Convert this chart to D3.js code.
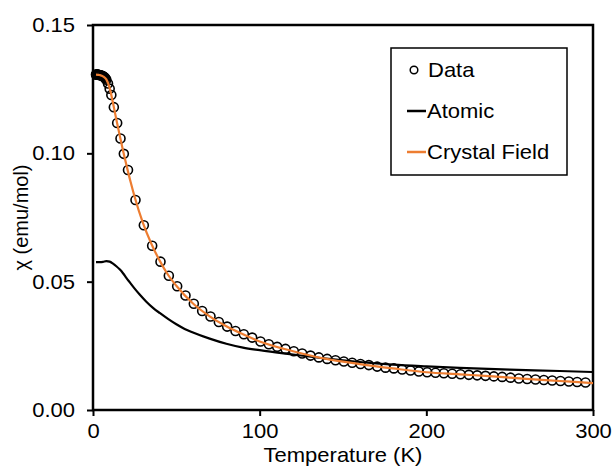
<!DOCTYPE html>
<html>
<head>
<meta charset="utf-8">
<script src="https://cdn.jsdelivr.net/npm/d3@7"></script>
<style>
  body { margin: 0; background: #fff; }
  svg { font-family: "Liberation Sans", Arial, sans-serif; }
</style>
</head>
<body>
<svg id="chart" width="613" height="467"></svg>
<script>
// Measured data (circles).
var dataT = [1.8, 2, 2.2, 2.5, 2.8, 3, 3.3, 3.6, 4, 4.5, 5, 5.5, 6, 6.5, 7, 7.5, 8, 9, 10, 11,
  12.5, 14.5, 16.5, 18.5, 21, 25.5, 30.5, 35.5, 40.5, 45.5, 50.5, 55.5, 60.5, 65.5, 70.5,
  75.5, 80.5, 85.5, 90.5, 95.5, 100.5, 105.5, 110.5, 115.5, 120.5, 125.5, 130.5, 135.5,
  140.5, 145.5, 150.5, 155.5, 160.5, 165.5, 170.5, 175.5, 180.5, 185.5, 190.5, 195.5,
  200.5, 205.5, 210.5, 215.5, 220.5, 225.5, 230.5, 235.5, 240.5, 245.5, 250.5, 255.5,
  260.5, 265.5, 270.5, 275.5, 280.5, 285.5, 290.5, 295.5];
var dataChi = [0.1307, 0.1307, 0.1307, 0.1307, 0.1306, 0.1306, 0.1306, 0.1305, 0.1305, 0.1304,
  0.1303, 0.1302, 0.1300, 0.1298, 0.1295, 0.1292, 0.1287, 0.1272, 0.1252, 0.1227,
  0.1180, 0.1118, 0.1058, 0.0998, 0.0935, 0.0818, 0.0720, 0.0640, 0.0578, 0.0523, 0.0482,
  0.0446, 0.0414, 0.0386, 0.0364, 0.0343, 0.0325, 0.0308, 0.0295, 0.0282, 0.0267, 0.0256,
  0.0246, 0.0238, 0.0229, 0.0220, 0.0212, 0.0205, 0.0199, 0.0194, 0.0189, 0.0184, 0.0179,
  0.0175, 0.0169, 0.0165, 0.0162, 0.0158, 0.0154, 0.0150, 0.0147, 0.0145, 0.0143, 0.0141,
  0.0139, 0.0137, 0.0135, 0.0133, 0.0131, 0.0129, 0.0126, 0.0123, 0.0121, 0.0119, 0.0117,
  0.0115, 0.0113, 0.0111, 0.0109, 0.0107];

// Atomic model (black line).
var atomicT = [1.8, 4, 6, 8, 10, 12, 14, 16, 18, 20, 22, 25, 28, 32, 36, 40, 45, 50, 55, 60,
  70, 80, 90, 100, 120, 140, 160, 180, 200, 220, 250, 280, 300];
var atomicChi = [0.0576, 0.0576, 0.0577, 0.0580, 0.0578, 0.0570, 0.0560, 0.0548, 0.0533,
  0.0515, 0.0498, 0.0473, 0.0450, 0.0422, 0.0398, 0.0378, 0.0355, 0.0334, 0.0316, 0.0302,
  0.0278, 0.0258, 0.0243, 0.0233, 0.0216, 0.0200, 0.0187, 0.0177, 0.0170, 0.0164, 0.0157,
  0.0152, 0.0148];

// Crystal field model (orange line).
var cfT = [1.8, 4, 6, 8, 10, 12, 14, 16, 18, 20, 22.5, 25, 30, 35, 40, 45, 50, 60, 70, 80,
  90, 100, 120, 140, 160, 180, 200, 220, 240, 260, 280, 300];
var cfChi = [0.1307, 0.1305, 0.1300, 0.1288, 0.1254, 0.1196, 0.1132, 0.1071, 0.1011, 0.0956,
  0.0890, 0.0830, 0.0728, 0.0648, 0.0582, 0.0527, 0.0484, 0.0415, 0.0365, 0.0326, 0.0295,
  0.0267, 0.0229, 0.0199, 0.0179, 0.0162, 0.0147, 0.0139, 0.0131, 0.0121, 0.0113, 0.0105];

var xTicks = [0, 100, 200, 300];
var yTicks = [0, 0.05, 0.10, 0.15];

var legendItems = ['Data', 'Atomic', 'Crystal Field'];
var orange = '#ed7d31';

var margin = { left: 93, top: 25, right: 20, bottom: 57 };
var width = 613 - margin.left - margin.right;
var height = 467 - margin.top - margin.bottom;

// The source text is a little wider than plain Arial.
var stretch = 1.1;
function widen(sel) {
  sel.each(function () {
    var t = d3.select(this);
    var tx = +t.attr('x') || 0;
    t.attr('x', 0).attr('transform', 'translate(' + tx + ',0) scale(' + stretch + ',1)');
  });
}

var svg = d3.select('#chart');
var g = svg.append('g')
  .attr('transform', 'translate(' + margin.left + ',' + margin.top + ')');

var x = d3.scaleLinear().domain([0, 300]).range([0, width]);
var y = d3.scaleLinear().domain([0, 0.15]).range([height, 0]);

// Axes.
var xAxis = g.append('g')
  .attr('transform', 'translate(0,' + height + ')')
  .call(d3.axisBottom(x).tickValues(xTicks).tickSize(6).tickPadding(8).tickFormat(d3.format('d')));
var yAxis = g.append('g')
  .call(d3.axisLeft(y).tickValues(yTicks).tickSize(6).tickPadding(12).tickFormat(d3.format('.2f')));

[xAxis, yAxis].forEach(function (a) {
  a.select('.domain').remove();
  a.selectAll('.tick line').attr('stroke', '#000').attr('stroke-width', 2);
  a.selectAll('.tick text').attr('fill', '#000').style('font-size', '20px').call(widen);
});

// Plot frame.
g.append('rect')
  .attr('width', width)
  .attr('height', height)
  .attr('fill', 'none')
  .attr('stroke', '#000')
  .attr('stroke-width', 2.5);

// Atomic line.
var line = d3.line()
  .x(function (d) { return x(d[0]); })
  .y(function (d) { return y(d[1]); })
  .curve(d3.curveMonotoneX);

g.append('path')
  .datum(d3.zip(atomicT, atomicChi))
  .attr('d', line)
  .attr('fill', 'none')
  .attr('stroke', '#000')
  .attr('stroke-width', 2.2);

// Data circles.
g.selectAll('circle.data')
  .data(d3.zip(dataT, dataChi))
  .enter().append('circle')
  .attr('class', 'data')
  .attr('cx', function (d) { return x(d[0]); })
  .attr('cy', function (d) { return y(d[1]); })
  .attr('r', 4.5)
  .attr('fill', 'none')
  .attr('stroke', '#000')
  .attr('stroke-width', 1.6);

// Crystal field line.
g.append('path')
  .datum(d3.zip(cfT, cfChi))
  .attr('d', line)
  .attr('fill', 'none')
  .attr('stroke', orange)
  .attr('stroke-width', 2.2);

// Axis titles.
svg.append('text')
  .attr('x', margin.left + width / 2)
  .attr('y', 462)
  .attr('text-anchor', 'middle')
  .style('font-size', '20px')
  .call(widen)
  .text('Temperature (K)');

svg.append('text')
  .attr('transform', 'translate(28,' + (margin.top + height / 2) + ') rotate(-90)')
  .attr('text-anchor', 'middle')
  .style('font-size', '20px')
  .text('χ (emu/mol)');

// Legend.
var legend = svg.append('g').attr('transform', 'translate(391,48)');
legend.append('rect')
  .attr('width', 176)
  .attr('height', 127)
  .attr('fill', '#fff')
  .attr('stroke', '#000')
  .attr('stroke-width', 1.5);

var rows = legend.selectAll('g.row')
  .data(legendItems)
  .enter().append('g')
  .attr('class', 'row')
  .attr('transform', function (d, i) { return 'translate(0,' + (22 + i * 41) + ')'; });

rows.each(function (d, i) {
  var row = d3.select(this);
  if (i === 0) {
    row.append('circle')
      .attr('cx', 23).attr('cy', 0).attr('r', 3.8)
      .attr('fill', 'none').attr('stroke', '#000').attr('stroke-width', 1.5);
  } else {
    row.append('line')
      .attr('x1', 16).attr('x2', 35).attr('y1', 0).attr('y2', 0)
      .attr('stroke', i === 1 ? '#000' : orange)
      .attr('stroke-width', 2.5);
  }
  row.append('text')
    .attr('x', i === 0 ? 37 : 36)
    .attr('y', 7)
    .style('font-size', '20px')
    .call(widen)
    .text(d);
});
</script>
</body>
</html>
